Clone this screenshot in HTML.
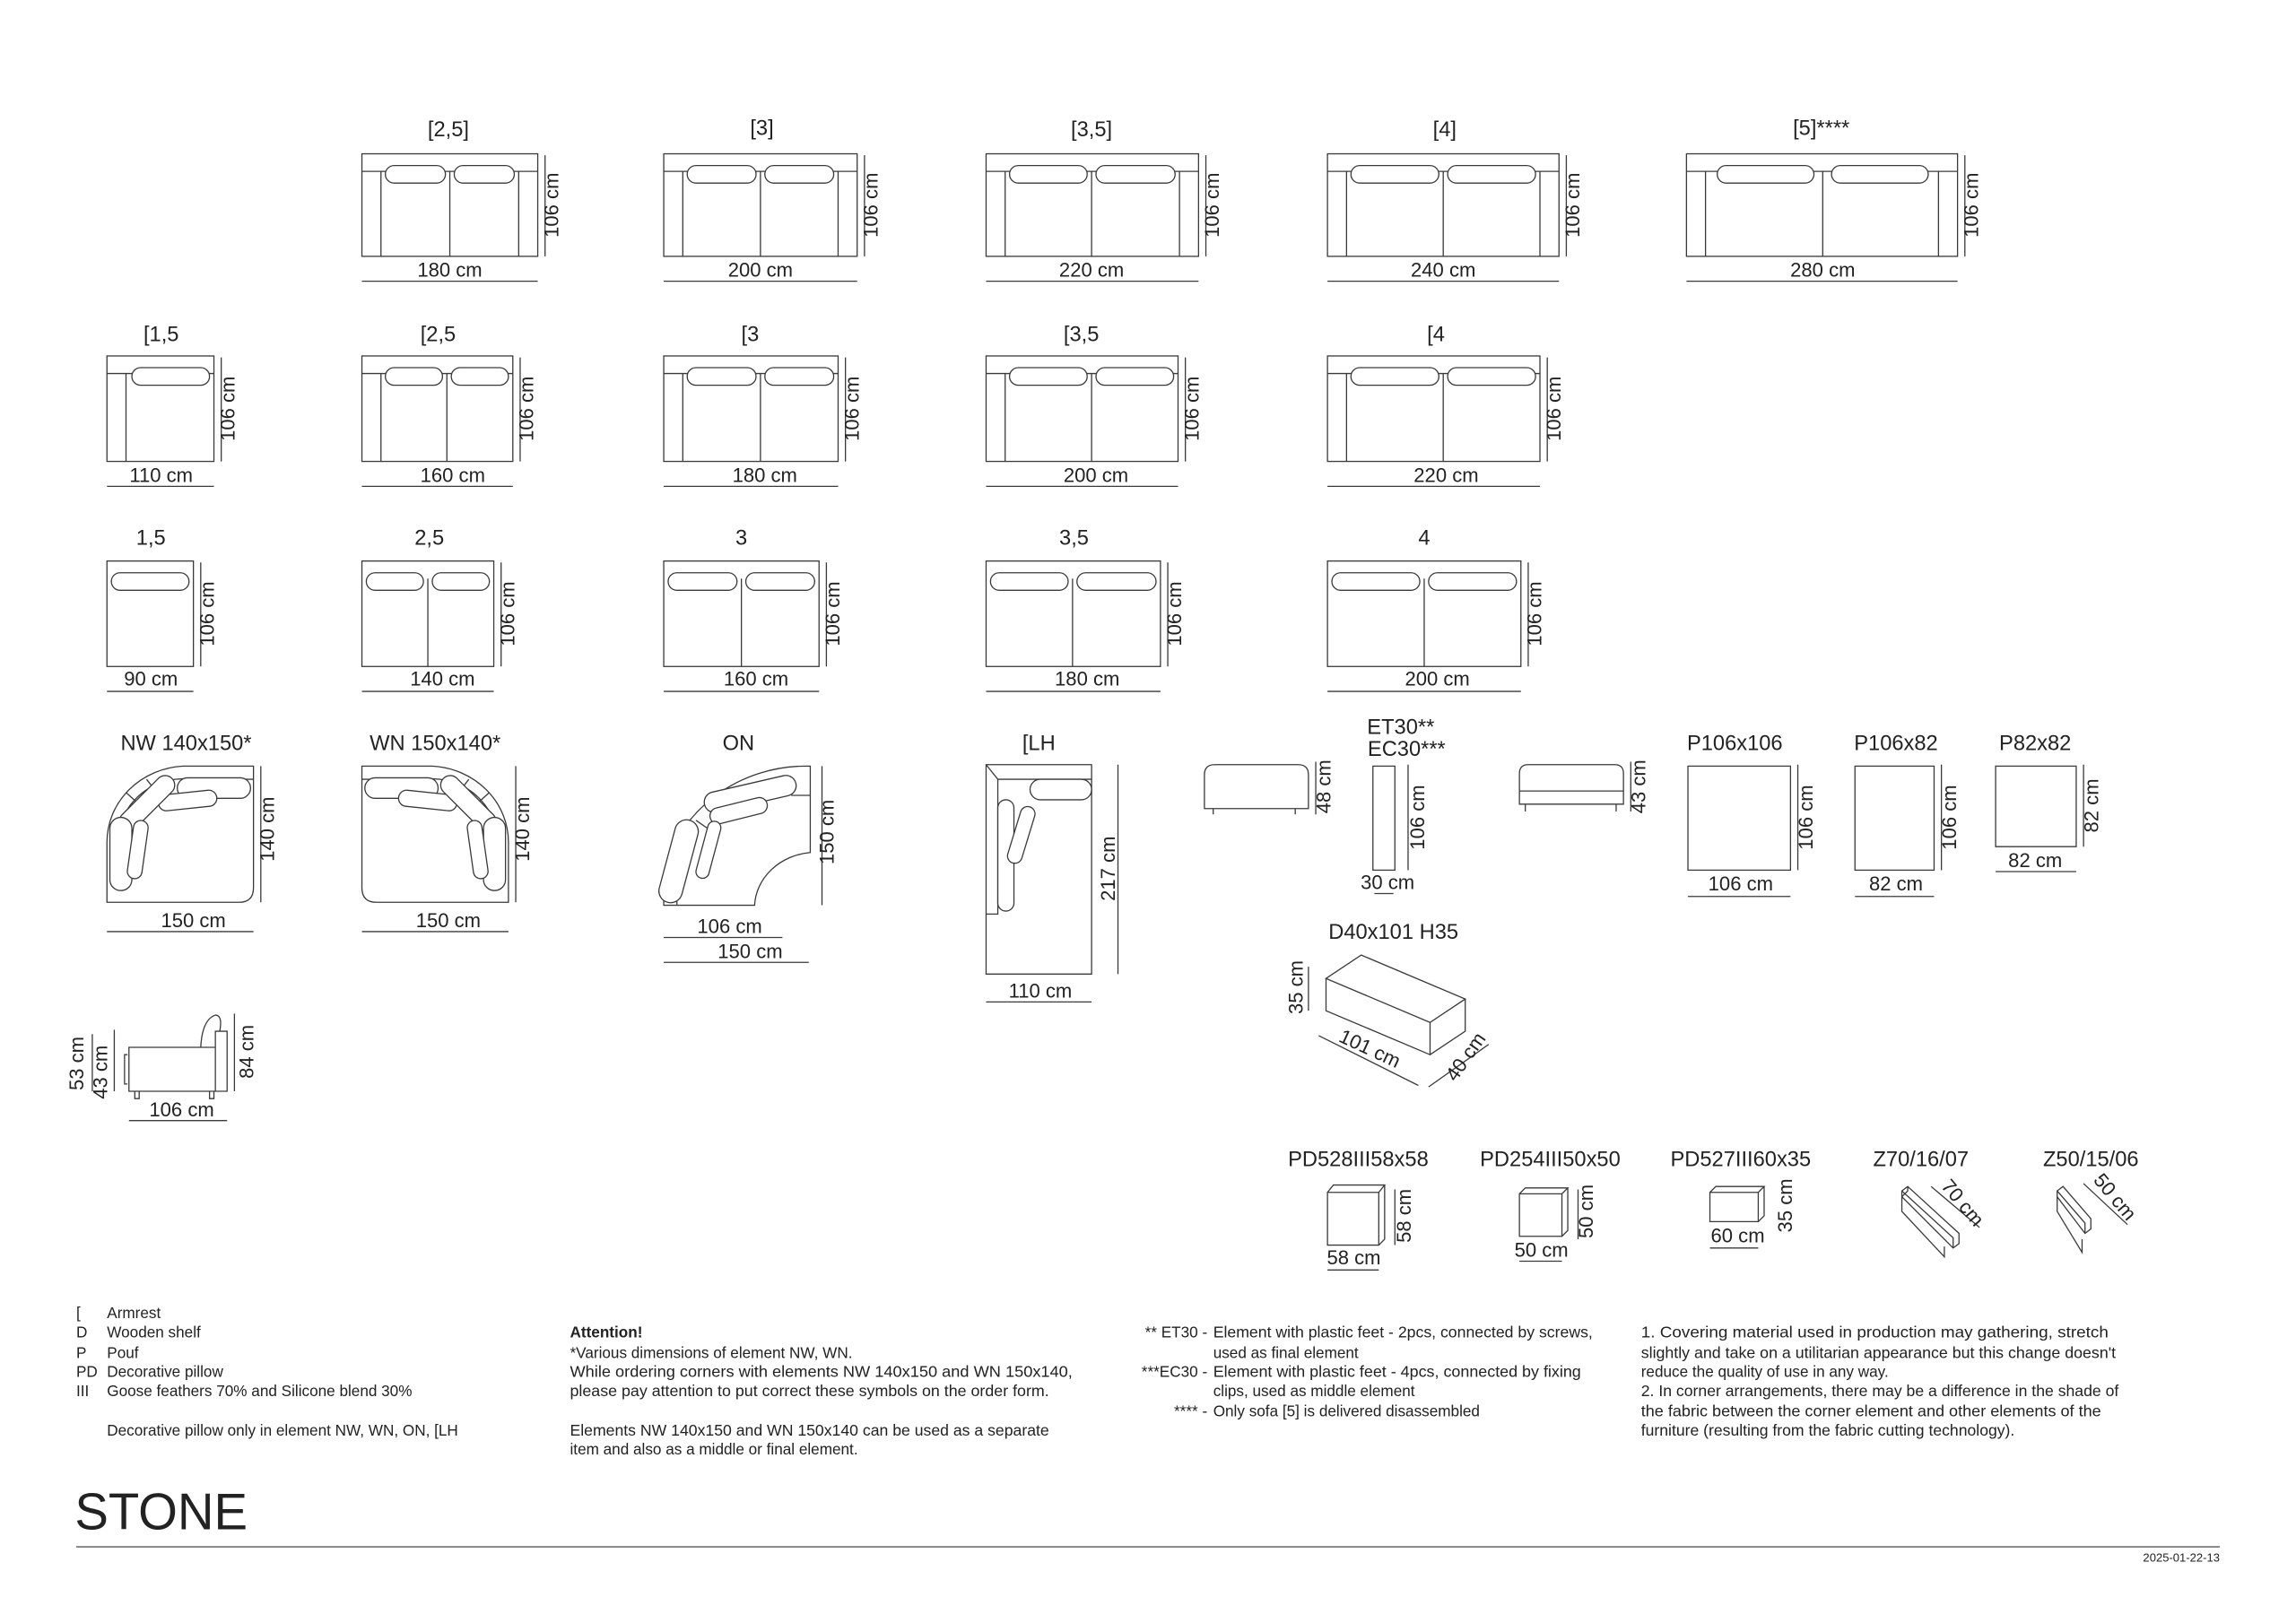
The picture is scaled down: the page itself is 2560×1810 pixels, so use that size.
<!DOCTYPE html>
<html><head><meta charset="utf-8"><style>
html,body{margin:0;padding:0;background:#fff}
svg{display:block}
text{font-family:"Liberation Sans",sans-serif;fill:#222}
.s{fill:none;stroke:#3a3a3a;stroke-width:0.8}
.p{fill:#fff;stroke:#3a3a3a;stroke-width:0.8}
.l{font-size:14.5px;text-anchor:middle}
.d{font-size:13.5px;text-anchor:middle}
.g{font-size:10.5px}
</style></head><body>
<svg width="2560" height="1810" viewBox="0 0 1567 1108" preserveAspectRatio="none" xmlns="http://www.w3.org/2000/svg">
<rect width="1567" height="1108" fill="#fff"/>

<g class="s">
<rect x="247" y="105" width="120" height="70"/><path d="M247 117H367M260 117V175M354 117V175M307 117V175M372 106V175M247 192H367"/>
<rect x="453" y="105" width="132" height="70"/><path d="M453 117H585M466 117V175M572 117V175M519 117V175M590 106V175M453 192H585"/>
<rect x="673" y="105" width="145" height="70"/><path d="M673 117H818M686 117V175M805 117V175M745 117V175M823 106V175M673 192H818"/>
<rect x="906" y="105" width="158" height="70"/><path d="M906 117H1064M919 117V175M1051 117V175M985 117V175M1069 106V175M906 192H1064"/>
<rect x="1151" y="105" width="185" height="70"/><path d="M1151 117H1336M1164 117V175M1323 117V175M1244 117V175M1341 106V175M1151 192H1336"/>
</g>
<g class="p">
<rect x="263" y="113" width="41" height="12" rx="6"/><rect x="310" y="113" width="41" height="12" rx="6"/>
<rect x="469" y="113" width="47" height="12" rx="6"/><rect x="522" y="113" width="47" height="12" rx="6"/>
<rect x="689" y="113" width="53" height="12" rx="6"/><rect x="748" y="113" width="54" height="12" rx="6"/>
<rect x="922" y="113" width="60" height="12" rx="6"/><rect x="988" y="113" width="60" height="12" rx="6"/>
<rect x="1172" y="113" width="66" height="12" rx="6"/><rect x="1250" y="113" width="66" height="12" rx="6"/>
</g>
<text class="l" x="306" y="93">[2,5]</text><text class="l" x="520" y="92">[3]</text><text class="l" x="745" y="93">[3,5]</text><text class="l" x="986" y="93">[4]</text><text class="l" x="1243" y="92">[5]****</text>
<text class="d" x="307" y="189">180 cm</text><text class="d" x="519" y="189">200 cm</text><text class="d" x="745" y="189">220 cm</text><text class="d" x="985" y="189">240 cm</text><text class="d" x="1244" y="189">280 cm</text>
<text class="d" transform="translate(381 140) rotate(-90)">106 cm</text>
<text class="d" transform="translate(599 140) rotate(-90)">106 cm</text>
<text class="d" transform="translate(832 140) rotate(-90)">106 cm</text>
<text class="d" transform="translate(1078 140) rotate(-90)">106 cm</text>
<text class="d" transform="translate(1350 140) rotate(-90)">106 cm</text>

<g class="s">
<rect x="73" y="243" width="73" height="72"/><path d="M73 255H146M86 255V315M151 244V315M73 332H146"/>
<rect x="247" y="243" width="103" height="72"/><path d="M247 255H350M260 255V315M305 255V315M355 244V315M247 332H350"/>
<rect x="453" y="243" width="119" height="72"/><path d="M453 255H572M466 255V315M519 255V315M577 244V315M453 332H572"/>
<rect x="673" y="243" width="131" height="72"/><path d="M673 255H804M686 255V315M745 255V315M809 244V315M673 332H804"/>
<rect x="906" y="243" width="145" height="72"/><path d="M906 255H1051M919 255V315M985 255V315M1056 244V315M906 332H1051"/>
</g>
<g class="p">
<rect x="90" y="251" width="53" height="12" rx="6"/>
<rect x="263" y="251" width="39" height="12" rx="6"/><rect x="308" y="251" width="39" height="12" rx="6"/>
<rect x="469" y="251" width="47" height="12" rx="6"/><rect x="522" y="251" width="47" height="12" rx="6"/>
<rect x="689" y="251" width="53" height="12" rx="6"/><rect x="748" y="251" width="53" height="12" rx="6"/>
<rect x="922" y="251" width="60" height="12" rx="6"/><rect x="988" y="251" width="60" height="12" rx="6"/>
</g>
<text class="l" x="110" y="233">[1,5</text><text class="l" x="299" y="233">[2,5</text><text class="l" x="512" y="233">[3</text><text class="l" x="738" y="233">[3,5</text><text class="l" x="980" y="233">[4</text>
<text class="d" x="110" y="329">110 cm</text><text class="d" x="309" y="329">160 cm</text><text class="d" x="522" y="329">180 cm</text><text class="d" x="748" y="329">200 cm</text><text class="d" x="987" y="329">220 cm</text>
<text class="d" transform="translate(160 279) rotate(-90)">106 cm</text>
<text class="d" transform="translate(364 279) rotate(-90)">106 cm</text>
<text class="d" transform="translate(586 279) rotate(-90)">106 cm</text>
<text class="d" transform="translate(818 279) rotate(-90)">106 cm</text>
<text class="d" transform="translate(1065 279) rotate(-90)">106 cm</text>

<g class="s">
<rect x="73" y="383" width="59" height="72"/><path d="M137 384V455M73 472H132"/>
<rect x="247" y="383" width="90" height="72"/><path d="M292 395V455M342 384V455M247 472H337"/>
<rect x="453" y="383" width="106" height="72"/><path d="M506 395V455M564 384V455M453 472H559"/>
<rect x="673" y="383" width="119" height="72"/><path d="M732 395V455M797 384V455M673 472H792"/>
<rect x="906" y="383" width="132" height="72"/><path d="M972 395V455M1043 384V455M906 472H1038"/>
</g>
<g class="p">
<rect x="76" y="391" width="53" height="12" rx="6"/>
<rect x="250" y="391" width="39" height="12" rx="6"/><rect x="295" y="391" width="39" height="12" rx="6"/>
<rect x="456" y="391" width="47" height="12" rx="6"/><rect x="509" y="391" width="47" height="12" rx="6"/>
<rect x="676" y="391" width="53" height="12" rx="6"/><rect x="735" y="391" width="54" height="12" rx="6"/>
<rect x="909" y="391" width="60" height="12" rx="6"/><rect x="975" y="391" width="60" height="12" rx="6"/>
</g>
<text class="l" x="103" y="372">1,5</text><text class="l" x="293" y="372">2,5</text><text class="l" x="506" y="372">3</text><text class="l" x="733" y="372">3,5</text><text class="l" x="972" y="372">4</text>
<text class="d" x="103" y="468">90 cm</text><text class="d" x="302" y="468">140 cm</text><text class="d" x="516" y="468">160 cm</text><text class="d" x="742" y="468">180 cm</text><text class="d" x="981" y="468">200 cm</text>
<text class="d" transform="translate(146 419) rotate(-90)">106 cm</text>
<text class="d" transform="translate(351 419) rotate(-90)">106 cm</text>
<text class="d" transform="translate(573 419) rotate(-90)">106 cm</text>
<text class="d" transform="translate(806 419) rotate(-90)">106 cm</text>
<text class="d" transform="translate(1052 419) rotate(-90)">106 cm</text>

<g>
<path class="s" d="M73 616V575A55 52 0 0 1 125 523H173V606Q173 616 163 616Z"/>
<path class="s" d="M82 563A45 45 0 0 1 130 532H173M86 541L97 551M100 532L107 541"/>
<g class="p">
<rect x="121" y="531" width="50" height="14" rx="7"/>
<rect x="108" y="541" width="40" height="11" rx="5.5" transform="rotate(-6 128 546)"/>
<rect x="76" y="542" width="48" height="13" rx="6.5" transform="rotate(-45 100 548)"/>
<rect x="75" y="558" width="15" height="50" rx="7.5"/>
<rect x="89" y="560" width="10" height="40" rx="5" transform="rotate(8 94 580)"/>
</g>
</g>
<g transform="translate(420 0) scale(-1 1)">
<path class="s" d="M73 616V575A55 52 0 0 1 125 523H173V606Q173 616 163 616Z"/>
<path class="s" d="M82 563A45 45 0 0 1 130 532H173M86 541L97 551M100 532L107 541"/>
<g class="p">
<rect x="121" y="531" width="50" height="14" rx="7"/>
<rect x="108" y="541" width="40" height="11" rx="5.5" transform="rotate(-6 128 546)"/>
<rect x="76" y="542" width="48" height="13" rx="6.5" transform="rotate(-45 100 548)"/>
<rect x="75" y="558" width="15" height="50" rx="7.5"/>
<rect x="89" y="560" width="10" height="40" rx="5" transform="rotate(8 94 580)"/>
</g>
</g>
<path class="s" d="M178 523V616M73 636H173M352 523V616M247 636H347"/>
<text class="l" x="127" y="512">NW 140x150*</text><text class="l" x="297" y="512">WN 150x140*</text>
<text class="d" x="132" y="633">150 cm</text><text class="d" x="306" y="633">150 cm</text>
<text class="d" transform="translate(187 566) rotate(-90)">140 cm</text>
<text class="d" transform="translate(361 566) rotate(-90)">140 cm</text>

<path class="s" d="M453 618V595A100 95 0 0 1 550 523H553V582A42 38 0 0 0 515 618Z"/>
<path class="s" d="M553 543H540M475 560L485 567M462 618V604"/>
<g class="p">
<rect x="480" y="535" width="64" height="14" rx="7" transform="rotate(-13 512 542)"/>
<rect x="484" y="548" width="40" height="11" rx="5.5" transform="rotate(-14 504 553)"/>
<rect x="455" y="560" width="16" height="58" rx="8" transform="rotate(15 467 589)"/>
<rect x="479" y="560" width="9" height="40" rx="4.5" transform="rotate(15 483 580)"/>
</g>
<path class="s" d="M561 523V618M453 640H534M453 657H552"/>
<text class="l" x="504" y="512">ON</text>
<text class="d" x="498" y="637">106 cm</text><text class="d" x="512" y="654">150 cm</text>
<text class="d" transform="translate(569 568) rotate(-90)">150 cm</text>

<path class="s" d="M673 522H745V665H673ZM673 522L681 532H745M681 532V624H673M763 522V665M673 684H745"/>
<g class="p">
<rect x="703" y="532" width="42" height="14" rx="7"/>
<rect x="681" y="546" width="11" height="76" rx="5.5"/>
<rect x="692" y="550" width="10" height="40" rx="5" transform="rotate(17 697 570)"/>
</g>
<text class="l" x="709" y="512">[LH</text>
<text class="d" x="710" y="681">110 cm</text>
<text class="d" transform="translate(761 593) rotate(-90)">217 cm</text>

<path class="s" d="M822 552V529Q822 522 829 522H886Q893 522 893 529V552ZM828 552V556M884 552V556M898 520V556"/>
<text class="d" transform="translate(908 537) rotate(-90)">48 cm</text>
<path class="s" d="M937 523H952V594H937ZM961 522V594M938 610H951"/>
<text class="l" x="956" y="501">ET30**</text><text class="l" x="960" y="516">EC30***</text>
<text class="d" transform="translate(972 558) rotate(-90)">106 cm</text>
<text class="d" x="947" y="607">30 cm</text>
<path class="s" d="M1037 549V528Q1037 522 1043 522H1102Q1108 522 1108 528V549ZM1037 540H1108M1041 549V554M1103 549V554M1113 520V554"/>
<text class="d" transform="translate(1123 537) rotate(-90)">43 cm</text>
<path class="s" d="M1152 523H1222V594H1152ZM1227 522V594M1152 612H1222M1266 523H1320V594H1266ZM1325 522V594M1266 612H1320M1362 523H1417V578H1362ZM1422 522V578M1362 595H1417"/>
<text class="l" x="1184" y="512">P106x106</text><text class="l" x="1294" y="512">P106x82</text><text class="l" x="1389" y="512">P82x82</text>
<text class="d" x="1188" y="608">106 cm</text><text class="d" x="1294" y="608">82 cm</text><text class="d" x="1389" y="592">82 cm</text>
<text class="d" transform="translate(1237 558) rotate(-90)">106 cm</text>
<text class="d" transform="translate(1335 558) rotate(-90)">106 cm</text>
<text class="d" transform="translate(1432 550) rotate(-90)">82 cm</text>

<text class="l" x="951" y="641">D40x101 H35</text>
<path class="s" d="M905 668L929 652L1000 682L976 698ZM905 668V690L976 720V698M976 720L1000 704V682M893 660V690M900 707L968 741M975 742L1016 713"/>
<text class="d" transform="translate(889 674) rotate(-90)">35 cm</text>
<text class="d" transform="translate(933 720) rotate(25)">101 cm</text>
<text class="d" transform="translate(1004 724) rotate(-55)">40 cm</text>

<path class="s" d="M88 715H147V745H88ZM147 715V704H155V745H147M137 715Q138 696 147 693Q152 693 150 704M87 720H85V740H87M92 745V750H95V745M143 745V750H146V745M78 703V745M63 706V745M160 692V745M88 765H155"/>
<text class="d" transform="translate(57 726) rotate(-90)">53 cm</text>
<text class="d" transform="translate(73 732) rotate(-90)">43 cm</text>
<text class="d" transform="translate(173 718) rotate(-90)">84 cm</text>
<text class="d" x="124" y="762">106 cm</text>

<text class="l" x="927" y="796">PD528III58x58</text><text class="l" x="1058" y="796">PD254III50x50</text><text class="l" x="1188" y="796">PD527III60x35</text><text class="l" x="1311" y="796">Z70/16/07</text><text class="l" x="1427" y="796">Z50/15/06</text>
<path class="s" d="M906 814H941V850H906ZM906 814L910 809H945L941 814M945 809V846L941 850M952 812V850M906 867H941"/>
<text class="d" transform="translate(963 830) rotate(-90)">58 cm</text><text class="d" x="924" y="863">58 cm</text>
<path class="s" d="M1037 815H1066V844H1037ZM1037 815L1041 811H1070L1066 815M1070 811V840L1066 844M1077 812V846M1037 861H1066"/>
<text class="d" transform="translate(1087 827) rotate(-90)">50 cm</text><text class="d" x="1052" y="858">50 cm</text>
<path class="s" d="M1167 814H1200V834H1167ZM1167 814L1171 810H1204L1200 814M1204 810V830L1200 834M1167 852H1200"/>
<text class="d" transform="translate(1223 823) rotate(-90)">35 cm</text><text class="d" x="1186" y="848">60 cm</text>
<path class="s" d="M1298 813L1302 810L1337 842V849L1333 852L1298 817ZM1302 810V813L1298 817V827L1327 858V851M1333 852V845L1298 813M1318 810L1351 838"/>
<text class="d" transform="translate(1336 824) rotate(50)">70 cm</text>
<path class="s" d="M1404 813L1408 810L1427 832V839L1423 842L1404 817ZM1404 817V827L1421 855V846M1423 842V835L1404 813M1422 808L1452 836"/>
<text class="d" transform="translate(1440 820) rotate(50)">50 cm</text>

<g class="g">
<text x="52" y="900">[</text><text x="73" y="900">Armrest</text>
<text x="52" y="913">D</text><text x="73" y="913">Wooden shelf</text>
<text x="52" y="927">P</text><text x="73" y="927">Pouf</text>
<text x="52" y="940">PD</text><text x="73" y="940">Decorative pillow</text>
<text x="52" y="953">III</text><text x="73" y="953">Goose feathers 70% and Silicone blend 30%</text>
<text x="73" y="980">Decorative pillow only in element NW, WN, ON, [LH</text>
<text x="389" y="913" font-weight="bold">Attention!</text>
<text x="389" y="927">*Various dimensions of element NW, WN.</text>
<text x="389" y="940" textLength="343" lengthAdjust="spacingAndGlyphs">While ordering corners with elements NW 140x150 and WN 150x140,</text>
<text x="389" y="953" textLength="327" lengthAdjust="spacingAndGlyphs">please pay attention to put correct these symbols on the order form.</text>
<text x="389" y="980" textLength="327" lengthAdjust="spacingAndGlyphs">Elements NW 140x150 and WN 150x140 can be used as a separate</text>
<text x="389" y="993">item and also as a middle or final element.</text>
<text x="824" y="913" text-anchor="end">** ET30 -</text><text x="828" y="913" textLength="259" lengthAdjust="spacingAndGlyphs">Element with plastic feet - 2pcs, connected by screws,</text>
<text x="828" y="927">used as final element</text>
<text x="824" y="940" text-anchor="end">***EC30 -</text><text x="828" y="940" textLength="251" lengthAdjust="spacingAndGlyphs">Element with plastic feet - 4pcs, connected by fixing</text>
<text x="828" y="953">clips, used as middle element</text>
<text x="824" y="967" text-anchor="end">**** -</text><text x="828" y="967">Only sofa [5] is delivered disassembled</text>
<text x="1120" y="913" textLength="319" lengthAdjust="spacingAndGlyphs">1. Covering material used in production may gathering, stretch</text>
<text x="1120" y="927" textLength="324" lengthAdjust="spacingAndGlyphs">slightly and take on a utilitarian appearance but this change doesn't</text>
<text x="1120" y="940">reduce the quality of use in any way.</text>
<text x="1120" y="953" textLength="326" lengthAdjust="spacingAndGlyphs">2. In corner arrangements, there may be a difference in the shade of</text>
<text x="1120" y="967" textLength="314" lengthAdjust="spacingAndGlyphs">the fabric between the corner element and other elements of the</text>
<text x="1120" y="980" textLength="255" lengthAdjust="spacingAndGlyphs">furniture (resulting from the fabric cutting technology).</text>
</g>
<text x="51" y="1044" font-size="35" textLength="118" lengthAdjust="spacingAndGlyphs">STONE</text>
<path d="M52 1056H1515" stroke="#555" stroke-width="0.8"/>
<text x="1515" y="1066" font-size="8" text-anchor="end">2025-01-22-13</text>
</svg>
</body></html>
